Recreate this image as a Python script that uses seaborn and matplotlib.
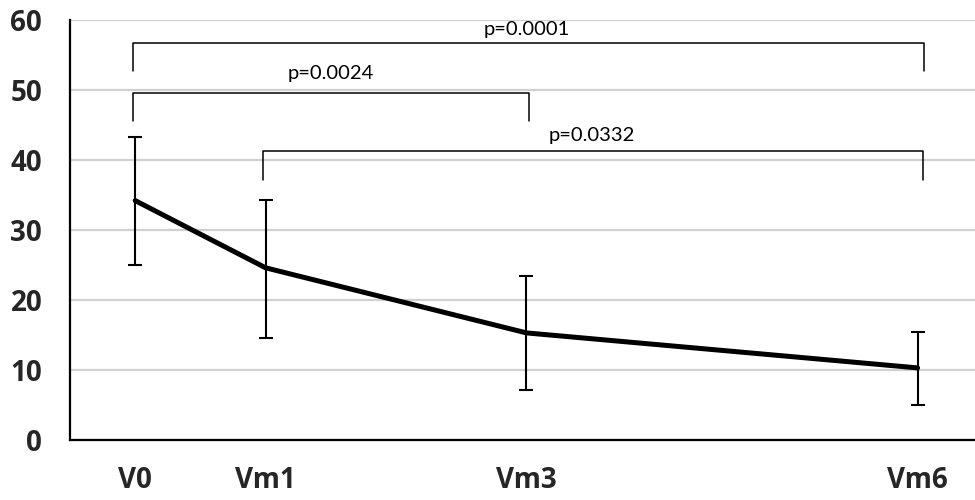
import matplotlib
matplotlib.use("Agg")
import matplotlib.pyplot as plt
import seaborn as sns
import pandas as pd
import numpy as np

# data
visits = ["V0", "Vm1", "Vm3", "Vm6"]
months = [0, 1, 3, 6]
means = [34.2, 24.6, 15.3, 10.3]
err_low = [25.0, 14.6, 7.1, 5.0]
err_high = [43.3, 34.3, 23.4, 15.4]
yticks = [0, 10, 20, 30, 40, 50, 60]

# significance brackets
br_start = [-0.02, -0.02, 0.98]
br_end = [6.05, 3.02, 6.04]
br_level = [56.7, 49.6, 41.3]
br_leg = [52.7, 45.6, 37.1]
br_label = ["p=0.0001", "p=0.0024", "p=0.0332"]
br_text_x = [3.0, 1.5, 3.5]
br_text_y = [58.6, 52.3, 43.5]

sns.set_style("white")
plt.rcParams['font.family'] = ['Lato', 'DejaVu Sans']

fig = plt.figure(figsize=(9.75, 5), dpi=100)
ax = fig.add_axes([70/975, 60/500, 905/975, 420/500])

df = pd.DataFrame({"month": months, "mean": means})
sns.lineplot(data=df, x="month", y="mean", ax=ax, color="black", linewidth=3.6, zorder=4)

lo = np.array(means) - np.array(err_low)
hi = np.array(err_high) - np.array(means)
ax.errorbar(months, means, yerr=[lo, hi], fmt="none", ecolor="black",
            elinewidth=1.5, capsize=5, capthick=1.5, zorder=5)

for s, e, lv, lg, lab, tx, ty in zip(br_start, br_end, br_level, br_leg, br_label, br_text_x, br_text_y):
    ax.plot([s, s, e, e], [lg, lv, lv, lg], color="black", linewidth=1.1, zorder=3)
    ax.text(tx, ty, lab, ha="center", va="center", fontsize=14.5, color="black")

ax.set_xlim(-0.5, 6.44)
ax.set_ylim(0, 60)
ax.set_yticks(yticks)
ax.set_xticks(months)
ax.set_xticklabels(visits)
ax.yaxis.grid(True, color="#d0d0d0", linewidth=1.6)
ax.set_axisbelow(True)
for sp in ["top", "right"]:
    ax.spines[sp].set_visible(False)
for sp in ["left", "bottom"]:
    ax.spines[sp].set_color("black")
    ax.spines[sp].set_linewidth(1.6)
ax.tick_params(axis="both", length=0)
ax.tick_params(axis="x", pad=19)
ax.tick_params(axis="y", pad=20)
for t in ax.get_xticklabels() + ax.get_yticklabels():
    t.set_fontfamily(["Open Sans", "DejaVu Sans"])
    t.set_fontweight("bold")
    t.set_fontsize(20)
ax.set_xlabel("")
ax.set_ylabel("")

fig.savefig("out.png", dpi=100)
